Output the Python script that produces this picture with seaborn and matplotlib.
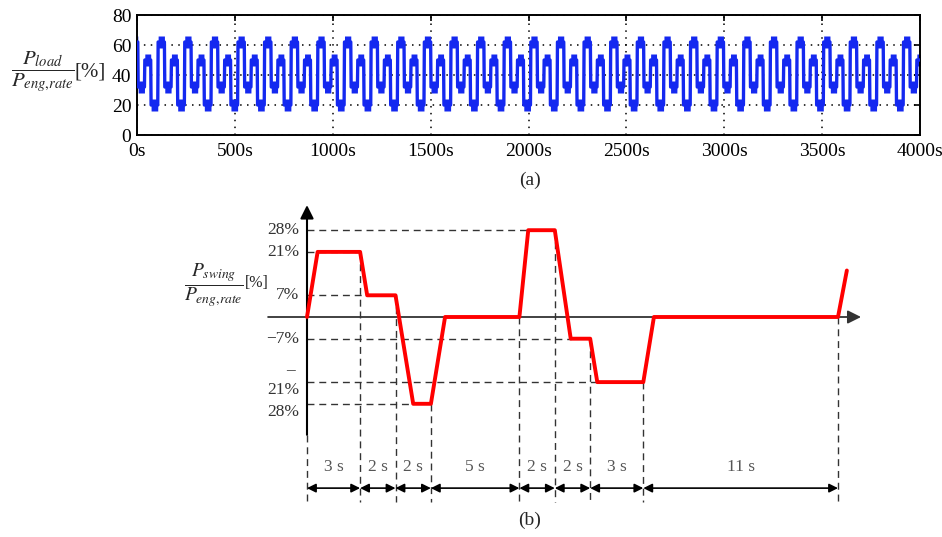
import numpy as np
import matplotlib

matplotlib.use("Agg")
import matplotlib.pyplot as plt
import seaborn as sns

# ---- (a) load profile: one repeating cycle ----
CYCLE_LEVELS = [50, 20, 62, 32]  # % of rated engine power
CYCLE_DURATIONS = [32, 36, 34, 34]  # s
N_CYCLES = 31
FIRST_RISE = -96  # s, start of the first cycle (before the plotted window)
RAMP = 2  # s
A_XTICKS = [0, 500, 1000, 1500, 2000, 2500, 3000, 3500, 4000]
A_YTICKS = [0, 20, 40, 60, 80]

# ---- (b) swing profile ----
SWING_T = [0, 0.6, 3, 3.4, 5, 6, 7, 7.8, 12, 12.5, 14, 14.9, 16, 16.4, 19, 19.6, 30, 30.5]
SWING_V = [0, 21, 21, 7, 7, -28, -28, 0, 0, 28, 28, -7, -7, -21, -21, 0, 0, 15]
BOUNDS = [0, 3, 5, 7, 12, 14, 16, 19, 30]
BOUND_TOP = [None, 21, 7, -28, 0, 28, -7, -21, 0]
DURATION_LABELS = ["3 s", "2 s", "2 s", "5 s", "2 s", "2 s", "3 s", "11 s"]
LEVELS = [28, 21, 7, -7, -21, -28]
LEVEL_ENDS = [14, 3, 3.4, 14.9, 16.4, 6]

BLUE = "#1428f0"
RED = "#ff0000"

sns.set_style("white")
plt.rcParams["font.family"] = ["Liberation Serif", "DejaVu Serif"]
plt.rcParams["mathtext.fontset"] = "stix"

fig = plt.figure(figsize=(9.42, 5.37), dpi=100)
W, H = 942, 537

# ---------------- panel (a) ----------------
ax_a = fig.add_axes([137 / W, 1 - 135 / H, (920 - 137) / W, 120 / H])
levels = np.tile(CYCLE_LEVELS, N_CYCLES)
edges = FIRST_RISE + np.concatenate([[0], np.cumsum(np.tile(CYCLE_DURATIONS, N_CYCLES))])
t_pts = np.column_stack([edges[:-1], edges[1:] - RAMP]).ravel()
v_pts = np.repeat(levels, 2).astype(float)

ax_a.fill_between(t_pts, v_pts - 4, v_pts + 4, color=BLUE, lw=0, zorder=2)
sns.lineplot(x=t_pts, y=v_pts, ax=ax_a, color=BLUE, lw=2.4, estimator=None,
             sort=False, zorder=3)
ax_a.set_xlim(0, 4000)
ax_a.set_ylim(0, 80)
ax_a.set_xticks(A_XTICKS, [f"{v}s" for v in A_XTICKS])
ax_a.set_yticks(A_YTICKS, [str(v) for v in A_YTICKS])
ax_a.grid(True, color="k", linestyle=(0, (1, 3.5)), lw=1.1)
ax_a.tick_params(direction="in", length=4, width=1.2, top=True, right=True,
                 labelsize=14, colors="k")
ax_a.tick_params(axis="x", pad=6)
ax_a.tick_params(axis="y", pad=4)
for s in ax_a.spines.values():
    s.set_color("k")
    s.set_linewidth(1.4)
ax_a.set_xlabel("")
ax_a.set_ylabel("")

fig.text(43 / W, 1 - 72 / H, r"$\dfrac{P_{load}}{P_{eng{,}rate}}$", fontsize=15,
         ha="center", va="center")
fig.text(90 / W, 1 - 72 / H, "[%]", fontsize=15, ha="center", va="center")
fig.text(530 / W, 1 - 180 / H, "(a)", fontsize=14, ha="center", va="center")

# ---------------- panel (b) ----------------
ax_b = fig.add_axes([165.4 / W, 1 - 534 / H, 743.4 / W, 341 / H])
ax_b.set_xlim(-8, 34)
ax_b.set_ylim(-70, 40)
ax_b.axis("off")

dash = (0, (5, 3.5))
for lv, end in zip(LEVELS, LEVEL_ENDS):
    ax_b.plot([0, end], [lv, lv], color="#333333", lw=1.0, ls=dash, zorder=1)
for b, top in zip(BOUNDS, BOUND_TOP):
    y0 = -38 if top is None else top
    ax_b.plot([b, b], [y0, -59.7], color="#333333", lw=1.0, ls=dash, zorder=1)

ax_b.annotate("", xy=(0, 36.1), xytext=(0, -38),
              arrowprops=dict(arrowstyle="-|>", color="k", lw=1.5,
                              mutation_scale=20, shrinkA=0, shrinkB=0))
ax_b.annotate("", xy=(31.3, 0), xytext=(-2.2, 0),
              arrowprops=dict(arrowstyle="-|>", color="#333333", lw=1.3,
                              mutation_scale=20, shrinkA=0, shrinkB=0))

sns.lineplot(x=SWING_T, y=SWING_V, ax=ax_b, color=RED, lw=2.8, estimator=None,
             sort=False, zorder=5)

for a, b, lab in zip(BOUNDS[:-1], BOUNDS[1:], DURATION_LABELS):
    ax_b.annotate("", xy=(b, -55.2), xytext=(a, -55.2),
                  arrowprops=dict(arrowstyle="<|-|>", color="k", lw=1.2,
                                  mutation_scale=13, shrinkA=0, shrinkB=0))
    ax_b.text((a + b) / 2, -48.3, lab, fontsize=12.5, color="#555555",
              ha="center", va="center")

for lv, lab in zip([28, 21, 7, -7], ["28%", "21%", "7%", "\u22127%"]):
    ax_b.text(-0.45, lv, lab, fontsize=12.5, color="#333333", ha="right", va="center")
ax_b.text(-0.7, -17, "\u2013", fontsize=12.5, color="#333333", ha="right", va="center")
ax_b.text(-0.45, -23.5, "21%", fontsize=12.5, color="#333333", ha="right", va="center")
ax_b.text(-0.45, -30.8, "28%", fontsize=12.5, color="#333333", ha="right", va="center")

ax_b.set_xlabel("")
ax_b.set_ylabel("")

fig.text(214 / W, 1 - 285 / H, r"$\dfrac{P_{swing}}{P_{eng{,}rate}}$", fontsize=14,
         ha="center", va="center")
fig.text(257 / W, 1 - 283 / H, "[%]", fontsize=11.5, ha="center", va="center")
fig.text(530 / W, 1 - 520 / H, "(b)", fontsize=14, ha="center", va="center")

fig.savefig("out.png", dpi=100)
